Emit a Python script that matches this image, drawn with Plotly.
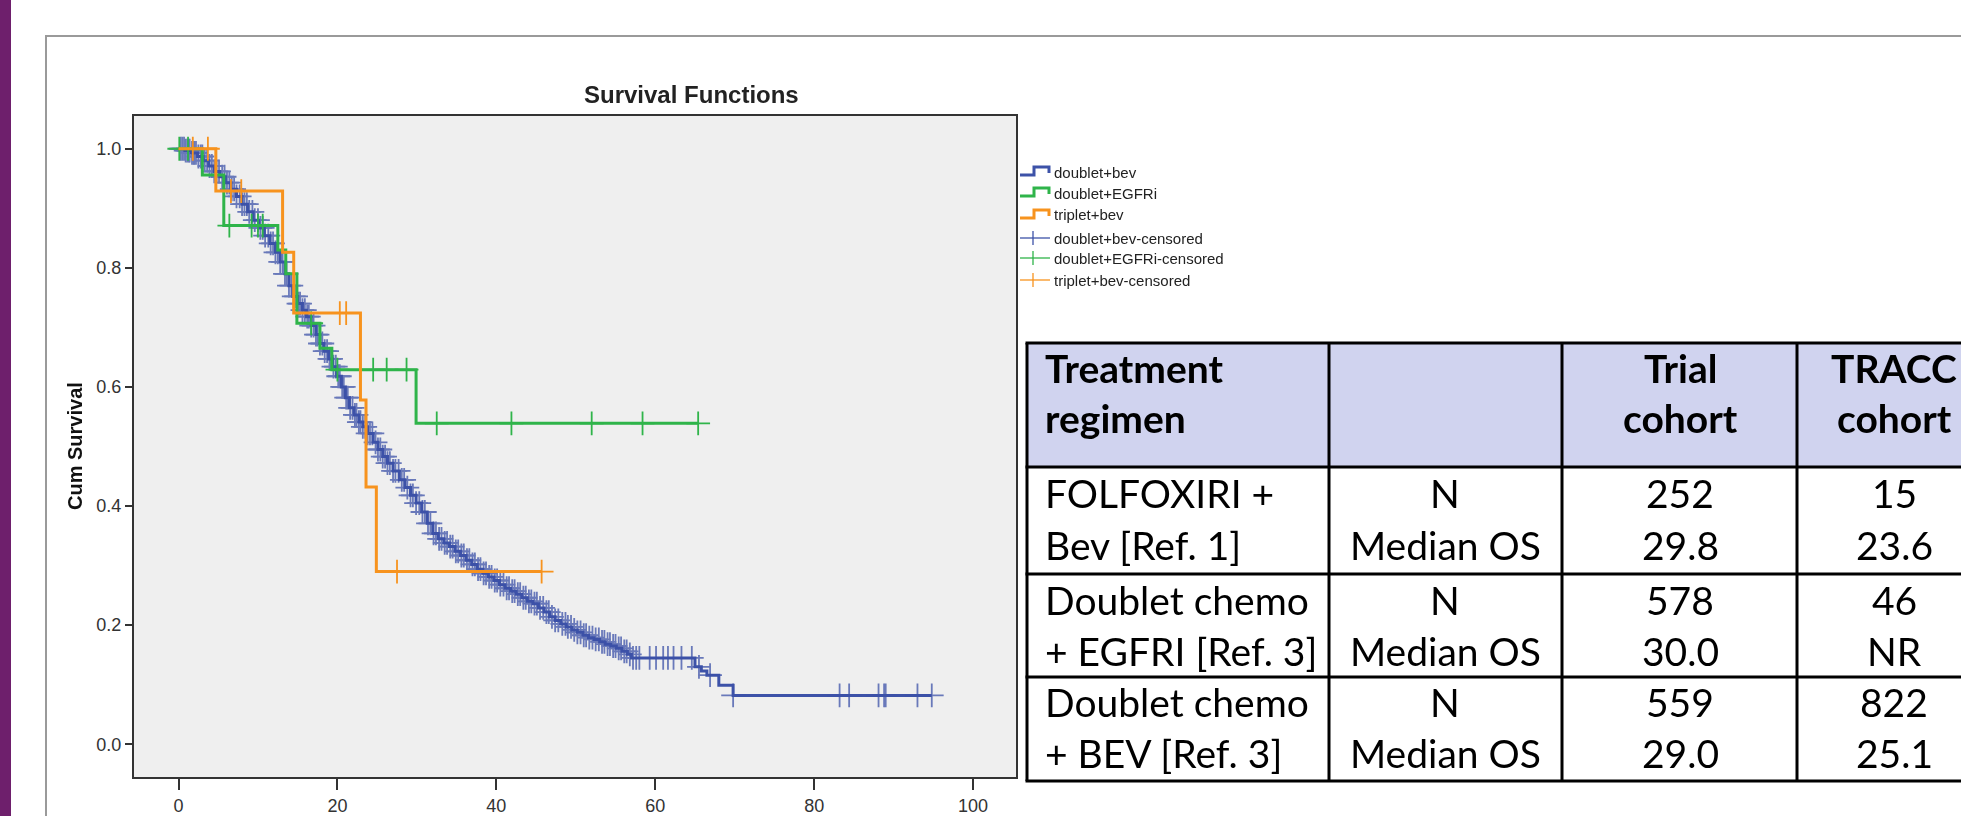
import numpy as np
import plotly.graph_objects as go

# ---------------- data ----------------
# Kaplan-Meier step knots: time (months) and cumulative survival after the step
bev_doublet_t = [0, 0.8, 1.6, 2.4, 3.1, 3.8, 4.5, 5.2, 5.9, 6.6, 7.3, 8.0, 8.7, 9.4, 10.1, 10.8,
                 11.5, 12.2, 12.8, 13.4, 13.9, 14.4, 15.0, 15.6, 16.1, 16.7, 17.3, 17.8, 18.3,
                 18.9, 19.4, 19.9, 20.5, 21.0, 21.5, 22.1, 22.7, 23.2, 23.8, 24.5, 25.1, 25.7,
                 26.3, 27.0, 27.8, 28.5, 29.2, 29.9, 30.6, 31.3, 32.0, 32.7, 33.4, 34.1, 34.8,
                 35.5, 36.2, 36.9, 37.6, 38.3, 39.0, 39.7, 40.4, 41.1, 41.8, 42.5, 43.2, 43.9,
                 44.6, 45.3, 46.0, 46.7, 47.4, 48.1, 48.8, 49.5, 50.2, 50.9, 51.6, 52.3, 53.0,
                 53.7, 54.4, 55.1, 55.8, 56.5, 57.0, 65.0, 65.8, 66.5, 68.0, 69.8]
bev_doublet_s = [1.000, 0.997, 0.993, 0.987, 0.980, 0.971, 0.962, 0.953, 0.943, 0.932, 0.920,
                 0.907, 0.894, 0.880, 0.867, 0.854, 0.841, 0.826, 0.810, 0.790, 0.770, 0.752,
                 0.740, 0.729, 0.718, 0.703, 0.688, 0.673, 0.660, 0.647, 0.634, 0.618, 0.600,
                 0.582, 0.565, 0.553, 0.541, 0.533, 0.522, 0.507, 0.495, 0.483, 0.472, 0.459,
                 0.444, 0.431, 0.418, 0.405, 0.390, 0.371, 0.354, 0.345, 0.338, 0.332, 0.324,
                 0.317, 0.309, 0.302, 0.294, 0.287, 0.281, 0.275, 0.268, 0.262, 0.257, 0.252,
                 0.246, 0.240, 0.236, 0.229, 0.222, 0.214, 0.208, 0.202, 0.197, 0.192, 0.188,
                 0.183, 0.179, 0.176, 0.172, 0.168, 0.165, 0.161, 0.156, 0.151, 0.145, 0.130,
                 0.123, 0.116, 0.099, 0.082]
bev_doublet_censored = [0.3, 0.5, 0.7, 0.9, 1.1, 1.3, 1.4, 1.7, 1.9, 2.0, 2.2, 2.5, 2.8, 3.0, 3.3,
                        3.6, 3.9, 4.2, 4.5, 4.8, 5.1, 5.5, 5.8, 6.1, 6.4, 6.7, 7.0, 7.3, 7.7, 8.0,
                        8.3, 8.6, 8.9, 9.3, 9.6, 10.0, 10.3, 10.6, 10.9, 11.3, 11.6, 11.9, 12.2,
                        12.5, 12.8, 13.1, 13.4, 13.6, 13.9, 14.2, 14.5, 14.8, 15.1, 15.3, 15.6,
                        15.9, 16.2, 16.4, 16.7, 17.0, 17.3, 17.5, 17.8, 18.1, 18.4, 18.7, 19.0,
                        19.2, 19.5, 19.8, 20.1, 20.3, 20.6, 20.8, 21.1, 21.3, 21.6, 21.9, 22.2,
                        22.4, 22.7, 22.9, 23.2, 23.5, 23.8, 24.1, 24.4, 24.8, 25.1, 25.4, 25.7,
                        26.0, 26.3, 26.6, 27.0, 27.3, 27.7, 28.1, 28.4, 28.8, 29.2, 29.5, 29.9,
                        30.3, 30.7, 31.0, 31.4, 31.7, 32.1, 32.4, 32.8, 33.1, 33.5, 33.8, 34.2,
                        34.5, 34.9, 35.2, 35.6, 35.9, 36.3, 36.6, 37.0, 37.3, 37.7, 38.0, 38.4,
                        38.7, 39.1, 39.4, 39.8, 40.1, 40.5, 40.9, 41.3, 41.6, 42.0, 42.3, 42.7,
                        43.0, 43.4, 43.7, 44.1, 44.4, 44.8, 45.1, 45.5, 45.9, 46.3, 46.6, 47.0,
                        47.4, 47.8, 48.3, 48.7, 49.0, 49.4, 49.8, 50.2, 50.6, 51.0, 51.3, 51.7,
                        52.1, 52.5, 52.9, 53.3, 53.6, 54.0, 54.3, 54.7, 55.0, 55.4, 55.7, 56.1,
                        56.4, 56.8, 57.2, 57.6, 58.0, 59.3, 60.1, 61.0, 61.6, 62.3, 63.3, 64.6,
                        65.5, 66.9, 69.8, 83.2, 84.4, 88.1, 88.8, 89.0, 93.0, 94.8]

egfr_doublet_t = [0, 3.0, 5.7, 12.5, 13.5, 14.9, 17.8, 19.3, 29.9]
egfr_doublet_s = [1.000, 0.956, 0.871, 0.830, 0.790, 0.707, 0.665, 0.629, 0.539]
egfr_doublet_censored = [0.1, 1.2, 6.4, 9.2, 10.0, 10.6, 16.7, 20.0, 24.5, 26.2, 28.7,
                         32.5, 41.9, 52.0, 58.4, 65.4]

bev_triplet_t = [0, 4.7, 13.1, 14.5, 22.9, 23.6, 24.9]
bev_triplet_s = [1.000, 0.929, 0.826, 0.724, 0.578, 0.432, 0.290]
bev_triplet_censored = [1.8, 3.7, 6.6, 7.9, 20.3, 21.1, 27.5, 45.7]

series_names = ["doublet+bev", "doublet+EGFRi", "triplet+bev"]
censored_names = ["doublet+bev-censored", "doublet+EGFRi-censored", "triplet+bev-censored"]

x_ticks = [0, 20, 40, 60, 80, 100]
y_ticks = [0.0, 0.2, 0.4, 0.6, 0.8, 1.0]
y_tick_labels = ["0.0", "0.2", "0.4", "0.6", "0.8", "1.0"]

# table
table_header = ["Treatment<br>regimen", "", "Trial<br>cohort", "TRACC<br>cohort"]
regimen_labels = ["FOLFOXIRI +<br>Bev [Ref. 1]",
                  "Doublet chemo<br>+ EGFRI [Ref. 3]",
                  "Doublet chemo<br>+ BEV [Ref. 3]"]
stat_labels = ["N", "Median OS"]
trial_n = [252, 578, 559]
trial_median_os = ["29.8", "30.0", "29.0"]
tracc_n = [15, 46, 822]
tracc_median_os = ["23.6", "NR", "25.1"]

# ---------------- styling ----------------
W, H = 1961, 816
BLUE = "#3D52A8"
GREEN = "#2FB44A"
ORANGE = "#F7931E"
colors = [BLUE, GREEN, ORANGE]
TICK_FONT = "Liberation Sans Narrow, Arial Narrow, Liberation Sans, Arial, sans-serif"
SANS = "Liberation Sans, Arial, sans-serif"
TABLE_FONT = "Lato, Open Sans, sans-serif"


def fx(p):
    return p / W


def fy(p):
    return 1 - p / H


def surv_at(times, surv, tc):
    times = np.asarray(times)
    surv = np.asarray(surv)
    idx = np.searchsorted(times, np.asarray(tc), side="right") - 1
    return surv[idx]


fig = go.Figure()

curves = [
    (bev_doublet_t, bev_doublet_s, bev_doublet_censored),
    (egfr_doublet_t, egfr_doublet_s, egfr_doublet_censored),
    (bev_triplet_t, bev_triplet_s, bev_triplet_censored),
]

for (t, s, c), col, nm, cnm in zip(curves, colors, series_names, censored_names):
    end_t = max(c)
    fig.add_trace(go.Scatter(
        x=list(t) + [end_t], y=list(s) + [s[-1]], mode="lines",
        line=dict(color=col, width=3, shape="hv"),
        name=nm, showlegend=False, hoverinfo="skip"))
    fig.add_trace(go.Scatter(
        x=c, y=surv_at(t, s, c), mode="markers",
        marker=dict(symbol="cross-thin", size=17, line=dict(color=col, width=1.8)),
        opacity=0.75 if col == BLUE else 1.0,
        name=cnm, showlegend=False, hoverinfo="skip"))

shapes = []
annotations = []

# purple side bar
shapes.append(dict(type="rect", xref="paper", yref="paper", x0=0, x1=fx(11), y0=0, y1=1,
                   fillcolor="#6E1F6C", line=dict(width=0), layer="above"))
# outer chart frame
shapes.append(dict(type="rect", xref="paper", yref="paper", x0=fx(46), x1=fx(1990),
                   y0=fy(840), y1=fy(36), line=dict(color="#9A9A9A", width=2)))

# ---------------- table ----------------
col_edges = [1027, 1329, 1562, 1797, 2040]
row_edges = [343, 467, 574, 677, 781]
col_text_x = [1043, 1445, 1680, 1894]
header_lines_y = [368, 418]
row_lines_y = [(493, 545), (600, 651), (702, 753)]

shapes.append(dict(type="rect", xref="paper", yref="paper", x0=fx(col_edges[0]), x1=fx(col_edges[-1]),
                   y0=fy(row_edges[1]), y1=fy(row_edges[0]), fillcolor="#D0D3EF",
                   line=dict(width=0), layer="below"))
for ry in row_edges:
    shapes.append(dict(type="line", xref="paper", yref="paper", x0=fx(col_edges[0] - 1.5),
                       x1=fx(col_edges[-1]), y0=fy(ry), y1=fy(ry),
                       line=dict(color="black", width=3)))
for cx in col_edges[:-1]:
    shapes.append(dict(type="line", xref="paper", yref="paper", x0=fx(cx), x1=fx(cx),
                       y0=fy(row_edges[0]), y1=fy(row_edges[-1]),
                       line=dict(color="black", width=3)))


def cell_text(txt, ci, yc, bold=False):
    annotations.append(dict(
        x=fx(col_text_x[ci]), y=fy(yc), xref="paper", yref="paper",
        text=f"<b>{txt}</b>" if bold else txt, showarrow=False,
        xanchor="left" if ci == 0 else "center", yanchor="middle",
        font=dict(family=TABLE_FONT, size=39, color="black")))


for ci, h in enumerate(table_header):
    if h:
        for li, part in enumerate(h.split("<br>")):
            cell_text(part, ci, header_lines_y[li], bold=True)

for ri in range(len(regimen_labels)):
    cols = [regimen_labels[ri].split("<br>"), stat_labels,
            [str(trial_n[ri]), trial_median_os[ri]],
            [str(tracc_n[ri]), tracc_median_os[ri]]]
    for ci, parts in enumerate(cols):
        for li, part in enumerate(parts):
            cell_text(part, ci, row_lines_y[ri][li])

# ---------------- legend (SPSS style) ----------------
legend_rows = [172, 193, 215, 238, 258, 280]
for i, (nm, col) in enumerate(zip(series_names, colors)):
    yc = legend_rows[i]
    path = (f"M {fx(1020)},{fy(yc + 3)} L {fx(1034)},{fy(yc + 3)} L {fx(1034)},{fy(yc - 5)} "
            f"L {fx(1049)},{fy(yc - 5)} L {fx(1049)},{fy(yc + 1)}")
    shapes.append(dict(type="path", xref="paper", yref="paper", path=path,
                       line=dict(color=col, width=3)))
    annotations.append(dict(x=fx(1052), y=fy(yc), xref="paper", yref="paper", text=nm,
                            showarrow=False, xanchor="left", yanchor="middle",
                            font=dict(family=SANS, size=15, color="#222")))
for i, (nm, col) in enumerate(zip(censored_names, colors)):
    yc = legend_rows[i + 3]
    shapes.append(dict(type="line", xref="paper", yref="paper", x0=fx(1020), x1=fx(1050),
                       y0=fy(yc), y1=fy(yc), line=dict(color=col, width=1.3)))
    shapes.append(dict(type="line", xref="paper", yref="paper", x0=fx(1033), x1=fx(1033),
                       y0=fy(yc - 7), y1=fy(yc + 7), line=dict(color=col, width=1.3)))
    annotations.append(dict(x=fx(1052), y=fy(yc), xref="paper", yref="paper", text=nm,
                            showarrow=False, xanchor="left", yanchor="middle",
                            font=dict(family=SANS, size=15, color="#222")))

annotations.append(dict(x=fx(691), y=fy(94), xref="paper", yref="paper",
                        text="<b>Survival Functions</b>", showarrow=False,
                        xanchor="center", yanchor="middle",
                        font=dict(family=SANS, size=24, color="#222")))
annotations.append(dict(x=fx(75), y=fy(446), xref="paper", yref="paper",
                        text="<b>Cum Survival</b>", showarrow=False, textangle=-90,
                        xanchor="center", yanchor="middle",
                        font=dict(family=SANS, size=20, color="#111")))

fig.update_layout(
    width=W, height=H,
    margin=dict(l=0, r=0, t=0, b=0),
    paper_bgcolor="white",
    plot_bgcolor="#EFEFEF",
    showlegend=False,
    shapes=shapes,
    annotations=annotations,
    xaxis=dict(domain=[fx(134), fx(1016)], range=[-5.6, 105.4], tickvals=x_ticks,
               showgrid=False, zeroline=False, showline=True, linecolor="#333", linewidth=2,
               mirror=True, ticks="outside", ticklen=11, tickwidth=2, tickcolor="#333",
               tickfont=dict(family=TICK_FONT, size=18, color="#333")),
    yaxis=dict(domain=[fy(777), fy(116)], range=[-0.055, 1.055], tickvals=y_ticks,
               ticktext=y_tick_labels,
               showgrid=False, zeroline=False, showline=True, linecolor="#333", linewidth=2,
               mirror=True, ticks="outside", ticklen=7, tickwidth=2, tickcolor="#333",
               tickfont=dict(family=TICK_FONT, size=18, color="#333")),
)

fig.write_html("out.html", config={"displayModeBar": False},
               post_script="document.body.style.margin='0';document.body.style.overflow='hidden';")
